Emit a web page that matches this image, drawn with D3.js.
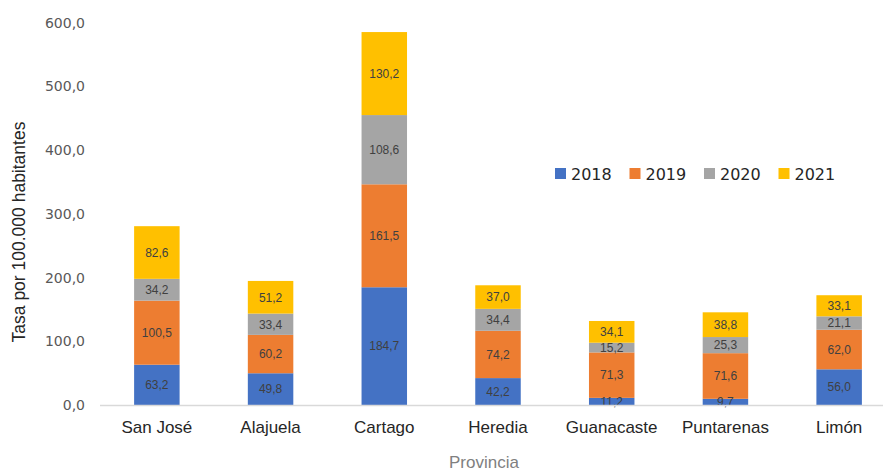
<!DOCTYPE html>
<html><head><meta charset="utf-8">
<script src="https://cdn.jsdelivr.net/npm/d3@7"></script>
<style>body{margin:0;background:#fff;} svg{display:block;font-family:"Liberation Sans",Arial,sans-serif;}</style>
</head><body>
<svg id="c" width="883" height="474"></svg>
<script>
const categories = ["San José","Alajuela","Cartago","Heredia","Guanacaste","Puntarenas","Limón"];
const seriesNames = ["2018","2019","2020","2021"];
const v2018 = [63.2,49.8,184.7,42.2,11.2,9.7,56.0];
const v2019 = [100.5,60.2,161.5,74.2,71.3,71.6,62.0];
const v2020 = [34.2,33.4,108.6,34.4,15.2,25.3,21.1];
const v2021 = [82.6,51.2,130.2,37.0,34.1,38.8,33.1];
const yTicks = [0,100,200,300,400,500,600];
const colors = ["#4472C4","#ED7D31","#A5A5A5","#FFC000"];

const svg = d3.select("#c");
const x = d3.scaleBand().domain(categories).range([100,896]).paddingInner(0.6).paddingOuter(0.3);
const y = d3.scaleLinear().domain([0,600]).range([405,22.5]);
const fmt = v => d3.format(".1f")(v).replace(".",",");

const rows = categories.map((c,i)=>({cat:c,"2018":v2018[i],"2019":v2019[i],"2020":v2020[i],"2021":v2021[i]}));
const stacked = d3.stack().keys(seriesNames)(rows);

// y tick labels
svg.append("g").selectAll("text").data(yTicks).join("text")
  .attr("x",85).attr("y",d=>y(d)).attr("dy","0.36em").attr("text-anchor","end")
  .attr("font-family","'DejaVu Sans',sans-serif")
  .attr("font-size",14).attr("fill","#595959").text(fmt);

// bars
const g = svg.append("g");
stacked.forEach((s,si)=>{
  g.append("g").selectAll("rect").data(s).join("rect")
    .attr("x",d=>x(d.data.cat)).attr("width",x.bandwidth())
    .attr("y",d=>y(d[1])).attr("height",d=>y(d[0])-y(d[1]))
    .attr("fill",colors[si]);
});
// axis line
svg.append("line").attr("x1",100).attr("x2",883).attr("y1",y(0)+0.5).attr("y2",y(0)+0.5)
  .attr("stroke","#d9d9d9").attr("stroke-width",1.5);
// labels
stacked.forEach((s,si)=>{
  g.append("g").selectAll("text").data(s).join("text")
    .attr("x",d=>x(d.data.cat)+x.bandwidth()/2)
    .attr("y",d=>(y(d[0])+y(d[1]))/2).attr("dy","0.36em")
    .attr("text-anchor","middle").attr("font-size",12).attr("fill","#404040")
    .text(d=>fmt(d[1]-d[0]));
});

// x labels
svg.append("g").selectAll("text").data(categories).join("text")
  .attr("x",d=>x(d)+x.bandwidth()/2).attr("y",432.5).attr("text-anchor","middle")
  .attr("font-size",17).attr("fill","#262626").text(d=>d);

// axis titles
svg.append("text").attr("transform","translate(25,232) rotate(-90)").attr("text-anchor","middle")
  .attr("font-size",17.5).attr("fill","#262626").text("Tasa por 100.000 habitantes");
svg.append("text").attr("x",484).attr("y",468).attr("text-anchor","middle")
  .attr("font-size",17).attr("fill","#808080").text("Provincia");

// legend
const lg = svg.append("g").selectAll("g").data(seriesNames).join("g")
  .attr("transform",(d,i)=>`translate(${555+i*74.5},168)`);
lg.append("rect").attr("width",11).attr("height",11).attr("fill",(d,i)=>colors[i]);
lg.append("text").attr("x",16).attr("y",11.5).attr("font-family","'DejaVu Sans',sans-serif")
  .attr("font-size",16).attr("fill","#262626").text(d=>d);
</script>
</body></html>
